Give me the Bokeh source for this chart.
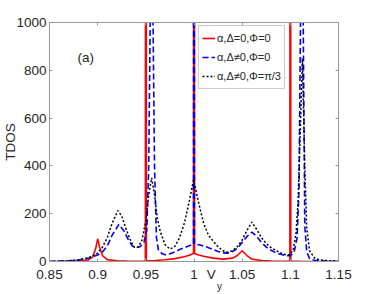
import numpy as np
from bokeh.plotting import figure
from bokeh.models import (LinearAxis, FixedTicker, Range1d, Label, Legend, LegendItem)
from bokeh.embed import file_html
from bokeh.resources import INLINE

# ---- data ----
x_red = [0.85, 0.87, 0.88, 0.89, 0.895, 0.898, 0.9, 0.902, 0.905, 0.91, 0.92, 0.93, 0.94,
         0.9495, 0.95, 0.9505, 0.96, 0.97, 0.98, 0.99, 0.995, 0.9995, 1.0, 1.0005, 1.005,
         1.01, 1.02, 1.03, 1.04, 1.045, 1.05, 1.055, 1.06, 1.07, 1.08, 1.09, 1.0995, 1.1,
         1.1005, 1.11, 1.13, 1.15]
y_red = [0, 1, 2, 6, 20, 55, 95, 60, 25, 8, 3, 1.5, 1,
         1, 5000, 2, 4, 7, 12, 20, 26, 33, 5000, 33, 27,
         22, 14, 10, 14, 25, 45, 25, 10, 4, 2, 1, 1, 5000,
         1, 0.5, 0, 0]

x_blue = [0.85, 0.87, 0.88, 0.89, 0.9, 0.905, 0.91, 0.915, 0.922, 0.927, 0.932, 0.936, 0.94,
          0.944, 0.948, 0.951, 0.953, 0.955, 0.957, 0.959, 0.961, 0.963, 0.967, 0.97, 0.975,
          0.98, 0.985, 0.99, 0.995, 0.9995, 1.0, 1.0005, 1.005, 1.01, 1.015, 1.02, 1.025,
          1.03, 1.035, 1.04, 1.045, 1.05, 1.055, 1.06, 1.065, 1.07, 1.075, 1.08, 1.085,
          1.09, 1.095, 1.1, 1.104, 1.107, 1.109, 1.111, 1.113, 1.115, 1.117, 1.12, 1.125,
          1.13, 1.15]
y_blue = [0, 3, 6, 13, 27, 40, 65, 110, 155, 130, 90, 65, 58,
          62, 80, 130, 400, 1200, 1200, 400, 100, 50, 32, 28, 32,
          40, 50, 58, 66, 72, 5000, 72, 70, 65, 58, 50, 42,
          36, 35, 42, 55, 80, 105, 123, 105, 80, 60, 47, 36,
          30, 25, 24, 40, 100, 300, 1200, 1200, 150, 40, 12, 5,
          3, 0]

x_black = [0.85, 0.87, 0.88, 0.89, 0.9, 0.905, 0.91, 0.915, 0.921, 0.925, 0.93, 0.935, 0.938,
           0.942, 0.946, 0.95, 0.953, 0.956, 0.959, 0.962, 0.965, 0.97, 0.975, 0.98, 0.985,
           0.99, 0.995, 0.9995, 1.003, 1.006, 1.01, 1.015, 1.02, 1.025, 1.03, 1.035, 1.04,
           1.045, 1.05, 1.055, 1.06, 1.065, 1.07, 1.075, 1.08, 1.085, 1.09, 1.095, 1.098,
           1.1, 1.103, 1.106, 1.108, 1.11, 1.1125, 1.115, 1.117, 1.12, 1.125, 1.13, 1.14, 1.15]
y_black = [0, 3, 7, 15, 35, 60, 100, 160, 213, 190, 130, 80, 60,
           60, 90, 170, 280, 350, 280, 180, 125, 70, 52, 62, 100,
           160, 250, 340, 280, 225, 160, 110, 85, 62, 45, 39, 45,
           62, 90, 130, 165, 135, 100, 75, 58, 46, 36, 28, 27,
           30, 50, 120, 250, 500, 850, 400, 140, 45, 15, 7, 3, 1]

x_ticks = [0.85, 0.9, 0.95, 1.0, 1.05, 1.1, 1.15]
x_tick_labels = ["0.85", "0.9", "0.95", "1", "1.05", "1.1", "1.15"]
y_ticks = [0, 200, 400, 600, 800, 1000]
legend_labels = ["\u03b1,\u0394=0,\u03a6=0", "\u03b1,\u0394\u22600,\u03a6=0", "\u03b1,\u0394\u22600,\u03a6=\u03c0/3"]
x_title_main, x_title_main_at = "V", 1.018
x_title_sub, x_title_sub_at = "y", 1.0265
y_title = "TDOS"

FONT = "Liberation Sans"
TXT = "#262626"
AX = "#9a9a9a"

p = figure(frame_width=289, frame_height=239, output_backend="svg", toolbar_location=None,
           x_range=Range1d(0.85, 1.15), y_range=Range1d(0, 1000),
           x_axis_type=None, y_axis_type=None,
           min_border_left=49, min_border_right=28, min_border_top=22, min_border_bottom=32)
p.outline_line_color = None
p.background_fill_color = "white"
p.border_fill_color = "white"
p.xgrid.visible = False
p.ygrid.visible = False

def style_axis(ax, labels=True, ticks=True, line=True, size="13.5px", standoff=5):
    ax.axis_line_color = AX if line else None
    ax.axis_line_width = 1
    ax.major_tick_line_color = AX if ticks else None
    ax.major_tick_in = 3 if ticks else 0
    ax.major_tick_out = 0
    ax.minor_tick_line_color = None
    ax.minor_tick_in = 0
    ax.minor_tick_out = 0
    ax.major_label_text_font = FONT
    ax.major_label_text_color = TXT
    if labels:
        ax.major_label_text_font_size = size
        ax.major_label_standoff = standoff
    else:
        ax.major_label_text_font_size = "0px"
        ax.major_label_standoff = 0
        ax.major_label_text_alpha = 0

# bottom: frame line + inward ticks only
xb_ticks = LinearAxis(ticker=FixedTicker(ticks=x_ticks))
style_axis(xb_ticks, labels=False)
p.add_layout(xb_ticks, "below")
# bottom: tick labels plus the "V" of the axis title, same row
lab_ticks = x_ticks + [x_title_main_at]
lab_text = x_tick_labels + [x_title_main]
xb_lab = LinearAxis(ticker=FixedTicker(ticks=lab_ticks),
                    major_label_overrides={t: s for t, s in zip(lab_ticks, lab_text)})
style_axis(xb_lab, ticks=False, line=False, standoff=5)
p.add_layout(xb_lab, "below")
# bottom: the subscript "y"
xb_sub = LinearAxis(ticker=FixedTicker(ticks=[x_title_sub_at]),
                    major_label_overrides={x_title_sub_at: x_title_sub})
style_axis(xb_sub, ticks=False, line=False, size="10px", standoff=-4)
p.add_layout(xb_sub, "below")

yl = LinearAxis(ticker=FixedTicker(ticks=y_ticks), axis_label=y_title)
style_axis(yl, standoff=3)
yl.axis_label_text_font = FONT
yl.axis_label_text_font_size = "13.5px"
yl.axis_label_text_font_style = "normal"
yl.axis_label_text_color = TXT
yl.axis_label_standoff = -5
p.add_layout(yl, "left")
xt = LinearAxis(ticker=FixedTicker(ticks=x_ticks))
style_axis(xt, labels=False)
p.add_layout(xt, "above")
yr = LinearAxis(ticker=FixedTicker(ticks=y_ticks))
style_axis(yr, labels=False)
p.add_layout(yr, "right")

r1 = p.line(x_red, y_red, line_color="#ff0000", line_width=1.6)
r2 = p.line(x_blue, y_blue, line_color="#0000ff", line_width=1.6, line_dash="6 3")
r3 = p.line(x_black, y_black, line_color="#000000", line_width=1.5, line_dash="2 2")

legend = Legend(items=[LegendItem(label=legend_labels[0], renderers=[r1]),
                       LegendItem(label=legend_labels[1], renderers=[r2]),
                       LegendItem(label=legend_labels[2], renderers=[r3])],
                location=(149, 172))
legend.label_text_font = FONT
legend.label_text_font_size = "11px"
legend.label_text_color = TXT
legend.glyph_width = 13
legend.glyph_height = 18
legend.label_height = 18
legend.label_standoff = 2
legend.spacing = 1
legend.padding = 3
legend.margin = 0
legend.border_line_color = AX
legend.border_line_width = 1
legend.background_fill_color = "white"
legend.background_fill_alpha = 1
p.add_layout(legend, "center")

p.add_layout(Label(x=0.879, y=853, text="(a)", text_font=FONT, text_font_size="13.5px",
                   text_color=TXT, text_baseline="middle", text_align="left"))

open("out.html", "w").write(file_html(p, INLINE))
